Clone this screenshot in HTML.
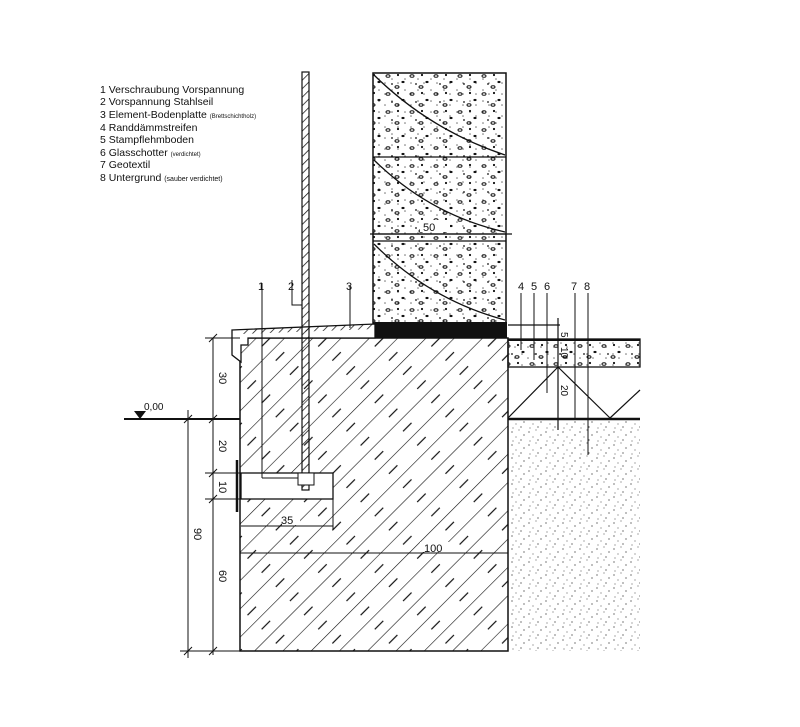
<!DOCTYPE html>
<html><head><meta charset="utf-8"><style>
html,body{margin:0;padding:0;background:#fff}
svg{display:block}
text{font-family:"Liberation Sans",sans-serif;fill:#111}
</style></head><body>
<svg width="800" height="727" viewBox="0 0 800 727" xmlns="http://www.w3.org/2000/svg">
<defs>
<pattern id="hatch" width="20" height="20" patternUnits="userSpaceOnUse" patternTransform="rotate(45)">
<line x1="0" y1="0" x2="0" y2="20" stroke="#111" stroke-width="1.2"/>
</pattern>
<pattern id="dash" width="20" height="40" patternUnits="userSpaceOnUse" patternTransform="rotate(45)">
<line x1="10" y1="8" x2="10" y2="20" stroke="#111" stroke-width="1.2"/>
</pattern>
<pattern id="sand" width="17" height="13" patternUnits="userSpaceOnUse">
<circle cx="2" cy="3" r="0.6" fill="#222"/><circle cx="9" cy="1" r="0.5" fill="#222"/><circle cx="14" cy="6" r="0.6" fill="#222"/><circle cx="6" cy="8" r="0.5" fill="#222"/><circle cx="11" cy="11" r="0.6" fill="#222"/><circle cx="3" cy="12" r="0.5" fill="#222"/>
</pattern>
<pattern id="peb" width="24" height="18" patternUnits="userSpaceOnUse">
<ellipse cx="4" cy="4" rx="2" ry="1.3" fill="none" stroke="#111" stroke-width="1"/><circle cx="14" cy="3" r="1.1" fill="#111"/><ellipse cx="19" cy="10" rx="1.6" ry="1.1" fill="#111"/><circle cx="8" cy="12" r="0.9" fill="#111"/><ellipse cx="13" cy="15" rx="2" ry="1.2" fill="none" stroke="#111"/>
</pattern>
<pattern id="fine" width="13" height="11" patternUnits="userSpaceOnUse">
<circle cx="2" cy="2" r="0.8" fill="#111"/><circle cx="8" cy="6" r="0.8" fill="#111"/>
</pattern>
<pattern id="rod" width="6" height="6" patternUnits="userSpaceOnUse" patternTransform="rotate(45)">
<line x1="0" y1="0" x2="0" y2="6" stroke="#111" stroke-width="1.5"/>
</pattern>
</defs>

<g font-size="10.5" style="font-family:'Liberation Sans Narrow','Liberation Sans',sans-serif">
<text x="100" y="93">1 Verschraubung Vorspannung</text>
<text x="100" y="105">2 Vorspannung Stahlseil</text>
<text x="100" y="118">3 Element-Bodenplatte <tspan font-size="6">(Brettschichtholz)</tspan></text>
<text x="100" y="131">4 Randdämmstreifen</text>
<text x="100" y="143">5 Stampflehmboden</text>
<text x="100" y="156">6 Glasschotter <tspan font-size="6">(verdichtet)</tspan></text>
<text x="100" y="168">7 Geotextil</text>
<text x="100" y="181">8 Untergrund <tspan font-size="7">(sauber verdichtet)</tspan></text>
</g>

<rect x="373" y="73" width="133" height="250" fill="url(#peb)" stroke="#111" stroke-width="1.5"/>
<rect x="373" y="73" width="133" height="250" fill="url(#fine)" opacity="0.6"/>
<g stroke="#111" stroke-width="1.3" fill="none">
<line x1="373" y1="157" x2="506" y2="157"/>
<line x1="373" y1="234" x2="506" y2="234"/>
<line x1="373" y1="241" x2="506" y2="241"/>
<path d="M374 75 Q430 130 505 155"/>
<path d="M374 160 Q430 215 505 232"/>
<path d="M374 244 Q430 300 505 320"/>
<line x1="370" y1="234" x2="512" y2="234"/>
</g>
<rect x="420" y="220" width="30" height="12" fill="#fff"/>
<text x="423" y="231" font-size="11">50</text>
<rect x="375" y="322" width="132" height="16" fill="#111"/>

<rect x="240" y="338" width="268" height="313" fill="url(#hatch)" stroke="#111" stroke-width="1.5"/>
<rect x="240" y="338" width="268" height="313" fill="url(#dash)"/>
<rect x="241" y="473" width="92" height="26" fill="#fff" stroke="#111" stroke-width="1.3"/>
<line x1="240" y1="553" x2="508" y2="553" stroke="#111" stroke-width="1"/>
<rect x="420" y="542" width="34" height="10" fill="#fff"/>
<text x="424" y="552" font-size="11">100</text>
<line x1="241" y1="526" x2="333" y2="526" stroke="#111"/>
<line x1="333" y1="499" x2="333" y2="530" stroke="#111"/>
<rect x="282" y="514" width="18" height="11" fill="#fff"/>
<text x="281" y="524" font-size="11">35</text>
<line x1="237" y1="460" x2="237" y2="512" stroke="#111" stroke-width="2.5"/>

<path d="M232 330 L375 324 L375 338 L248 338 L248 345 L241 345 L241 362 L232 355 Z" fill="#fff" stroke="#111" stroke-width="1.3"/>
<path d="M240 330 L375 324 L375 329 L240 334 Z" fill="url(#rod)"/>

<rect x="302" y="72" width="7" height="418" fill="url(#rod)" stroke="#111" stroke-width="1.2"/>
<rect x="298" y="473" width="16" height="12" fill="#fff" stroke="#111"/>
<line x1="262" y1="283" x2="262" y2="478" stroke="#111"/>
<line x1="262" y1="478" x2="298" y2="478" stroke="#111"/>
<polyline points="292,280 292,305 302,305" fill="none" stroke="#111"/>
<line x1="350" y1="285" x2="350" y2="328" stroke="#111"/>

<g font-size="11">
<text x="258" y="290">1</text><text x="288" y="290">2</text><text x="346" y="290">3</text>
<text x="518" y="290">4</text><text x="531" y="290">5</text><text x="544" y="290">6</text>
<text x="571" y="290">7</text><text x="584" y="290">8</text>
</g>
<g stroke="#111" stroke-width="1">
<line x1="521" y1="293" x2="521" y2="350"/><line x1="534" y1="293" x2="534" y2="360"/>
<line x1="547" y1="293" x2="547" y2="393"/><line x1="575" y1="293" x2="575" y2="418"/>
<line x1="588" y1="293" x2="588" y2="455"/>
</g>

<rect x="508" y="339" width="132" height="28" fill="url(#peb)" stroke="#111" stroke-width="1.3"/>
<rect x="508" y="339" width="132" height="28" fill="url(#fine)" opacity="0.6"/>
<line x1="508" y1="340" x2="640" y2="340" stroke="#111" stroke-width="2"/>
<g stroke="#111" stroke-width="1.2" fill="none">
<line x1="508" y1="418" x2="558" y2="367"/><line x1="558" y1="367" x2="610" y2="418"/>
<line x1="610" y1="418" x2="640" y2="390"/>
<line x1="558" y1="318" x2="558" y2="430"/>
<line x1="508" y1="325" x2="560" y2="325"/>
</g>
<text font-size="10" transform="translate(561,332) rotate(90)">5</text>
<text font-size="10" transform="translate(561,347) rotate(90)">10</text>
<text font-size="10" transform="translate(561,385) rotate(90)">20</text>
<line x1="508" y1="419" x2="640" y2="419" stroke="#111" stroke-width="2.5"/>
<rect x="510" y="421" width="130" height="230" fill="url(#sand)"/>

<g stroke="#111" stroke-width="1">
<line x1="124" y1="419" x2="240" y2="419" stroke-width="2"/>
<line x1="213" y1="338" x2="213" y2="655"/>
<line x1="188" y1="410" x2="188" y2="658"/>
<line x1="205" y1="338" x2="240" y2="338"/>
<line x1="205" y1="473" x2="240" y2="473"/>
<line x1="205" y1="499" x2="240" y2="499"/>
<line x1="180" y1="651" x2="240" y2="651"/>
<line x1="209" y1="342" x2="217" y2="334"/><line x1="209" y1="423" x2="217" y2="415"/>
<line x1="209" y1="477" x2="217" y2="469"/><line x1="209" y1="503" x2="217" y2="495"/>
<line x1="209" y1="655" x2="217" y2="647"/><line x1="184" y1="423" x2="192" y2="415"/>
<line x1="184" y1="655" x2="192" y2="647"/>
</g>
<path d="M140 419 L146 411 L134 411 Z" fill="#111"/>
<text x="144" y="410" font-size="10">0,00</text>
<g font-size="11">
<text transform="translate(219,372) rotate(90)">30</text>
<text transform="translate(219,440) rotate(90)">20</text>
<text transform="translate(219,481) rotate(90)">10</text>
<text transform="translate(219,570) rotate(90)">60</text>
<text transform="translate(194,528) rotate(90)">90</text>
</g>
</svg>
</body></html>
